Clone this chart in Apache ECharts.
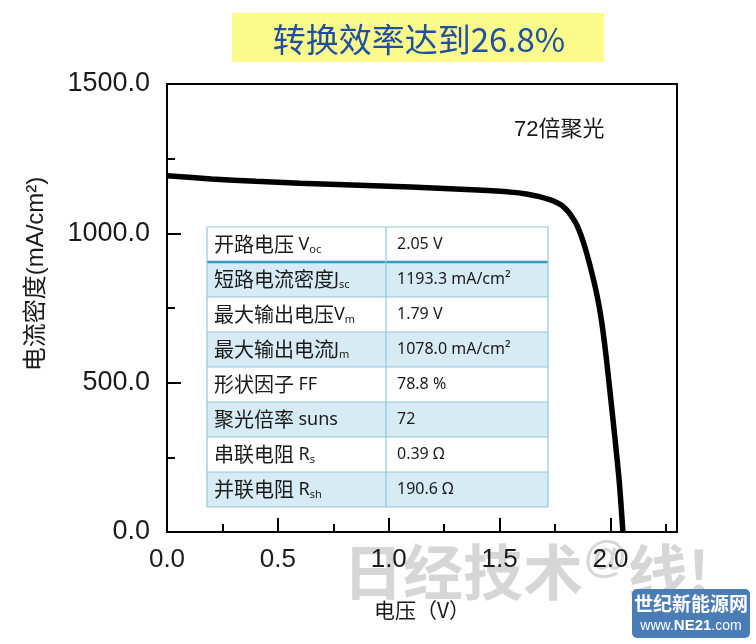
<!DOCTYPE html>
<html><head><meta charset="utf-8">
<script src="https://cdn.jsdelivr.net/npm/echarts@6/dist/echarts.min.js"></script>
<style>html,body{margin:0;padding:0;background:#fff}#c{width:756px;height:644px}</style>
</head><body><div id="c"></div>
<script>
// ---- data ----
const voltage = [0, 0.2, 0.4, 0.6, 0.8, 1.0, 1.2, 1.4, 1.55, 1.62, 1.68, 1.72, 1.75, 1.78, 1.80, 1.82, 1.85, 1.88, 1.91, 1.94, 1.96, 1.98, 2.0, 2.02, 2.04, 2.056];
const current = [1193, 1182, 1174, 1168, 1163, 1158, 1152, 1145, 1138, 1132, 1123, 1114, 1106, 1094, 1080, 1062, 1025, 965, 885, 790, 705, 590, 455, 315, 165, 0];
const yTickLabels = ['0.0', '500.0', '1000.0', '1500.0'];
const xTickLabels = ['0.0', '0.5', '1.0', '1.5', '2.0'];
const titleText = '转换效率达到26.8%';
const noteText = '72倍聚光';
const xName = '电压（V）';
const yName = '电流密度(mA/cm²)';
const tableNames = ['开路电压 ', '短路电流密度', '最大输出电压', '最大输出电流', '形状因子 ', '聚光倍率 ', '串联电阻 ', '并联电阻 '];
const tableSymbols = ['V', 'J', 'V', 'J', 'FF', 'suns', 'R', 'R'];
const tableSubs = ['oc', 'sc', 'm', 'm', '', '', 's', 'sh'];
const tableValues = ['2.05 V', '1193.3 mA/cm²', '1.79 V', '1078.0 mA/cm²', '78.8 %', '72', '0.39 Ω', '190.6 Ω'];

// ---- chart ----
const chart = echarts.init(document.getElementById('c'));
const latin = '"Liberation Sans", Arial, "Noto Sans CJK SC", sans-serif';
const cjk = '"Noto Sans CJK SC", sans-serif';

const graphics = [];
// watermark
graphics.push({
  type: 'text', z: -10, silent: true,
  style: {
    x: 343, y: 570, text: '{b|日经技术}{s|@}{b|线!}',
    textVerticalAlign: 'middle', verticalAlign: 'middle',
    rich: {
      b: {fontSize: 60, fontFamily: cjk, fontWeight: 'bold', fill: '#d6d6d6', color: '#d6d6d6', lineHeight: 64, verticalAlign: 'bottom'},
      s: {fontSize: 44, fontFamily: latin, fill: '#d6d6d6', color: '#d6d6d6', lineHeight: 64, verticalAlign: 'top'}
    }
  }
});
// title box
graphics.push({type: 'rect', shape: {x: 232, y: 13, width: 372, height: 49}, style: {fill: '#fbfb8c'}});
graphics.push({type: 'text', style: {x: 419, y: 39, text: titleText, font: '33px ' + cjk, fill: '#1f4fa0',
  textAlign: 'center', align: 'center', textVerticalAlign: 'middle', verticalAlign: 'middle'}});
// note
graphics.push({type: 'text', style: {x: 514, y: 130, text: noteText, font: '22px ' + latin, fill: '#1a1a1a',
  textAlign: 'left', align: 'left', textVerticalAlign: 'middle', verticalAlign: 'middle'}});
// y axis name
graphics.push({type: 'text', x: 36, y: 274, rotation: Math.PI / 2, style: {x: 0, y: 0, text: yName, font: '24px ' + latin, fill: '#1a1a1a',
  textAlign: 'center', align: 'center', textVerticalAlign: 'middle', verticalAlign: 'middle'}});
// table
const T = {x: 207, y: 227, w: 341, rh: 35, split: 386};
tableNames.forEach((nm, i) => {
  const ry = T.y + i * T.rh;
  graphics.push({type: 'rect', shape: {x: T.x, y: ry, width: T.w, height: T.rh}, style: {fill: i % 2 ? '#d6ebf4' : '#ffffff'}});
  const sub = tableSubs[i] ? '{s|' + tableSubs[i] + '}' : '';
  graphics.push({type: 'text', style: {
    x: T.x + 7, y: ry + T.rh / 2, text: '{c|' + nm + '}{l|' + tableSymbols[i] + '}' + sub,
    textVerticalAlign: 'middle', verticalAlign: 'middle',
    rich: {
      c: {fontSize: 20, fontFamily: cjk, fill: '#1a1a1a', color: '#1a1a1a', lineHeight: 22, verticalAlign: 'middle'},
      l: {fontSize: 18, fontFamily: '"Noto Sans", sans-serif', fill: '#1a1a1a', color: '#1a1a1a', lineHeight: 22, verticalAlign: 'middle'},
      s: {fontSize: 11, fontFamily: '"Noto Sans", sans-serif', fill: '#1a1a1a', color: '#1a1a1a', lineHeight: 22, verticalAlign: 'bottom'}
    }
  }});
  graphics.push({type: 'text', style: {x: T.split + 11, y: ry + T.rh / 2, text: tableValues[i],
    font: '16px "Noto Sans", sans-serif', fill: '#1a1a1a', textVerticalAlign: 'middle', verticalAlign: 'middle'}});
});
for (let i = 0; i <= tableNames.length; i++) {
  const yy = T.y + i * T.rh;
  const strong = i === 1;
  graphics.push({type: 'line', shape: {x1: T.x, y1: yy, x2: T.x + T.w, y2: yy},
    style: {stroke: strong ? '#3a98c5' : '#8fc8dd', lineWidth: strong ? 2.5 : 1.2}});
}
[T.x, T.split, T.x + T.w].forEach(xx => {
  graphics.push({type: 'line', shape: {x1: xx, y1: T.y, x2: xx, y2: T.y + T.rh * tableNames.length},
    style: {stroke: '#8fc8dd', lineWidth: 1.2}});
});
// logo
graphics.push({type: 'rect', shape: {x: 632, y: 589, width: 118, height: 49, r: 5}, style: {fill: '#4a7db5'}});
graphics.push({type: 'text', style: {x: 691, y: 604, text: '世纪新能源网', font: 'bold 19px ' + cjk, fill: '#ffffff',
  textAlign: 'center', align: 'center', textVerticalAlign: 'middle', verticalAlign: 'middle'}});
graphics.push({type: 'text', style: {x: 691, y: 626, text: '{a|www.}{b|NE21}{a|.com}',
  textAlign: 'center', align: 'center', textVerticalAlign: 'middle', verticalAlign: 'middle',
  rich: {
    a: {fontSize: 14, fontFamily: latin, fill: '#ffffff', color: '#ffffff'},
    b: {fontSize: 15, fontFamily: latin, fontWeight: 'bold', fill: '#ffffff', color: '#ffffff'}
  }}});

const fmtX = v => { const i = [0, 0.5, 1, 1.5, 2].findIndex(t => Math.abs(t - v) < 1e-6); return i >= 0 ? xTickLabels[i] : ''; };
const fmtY = v => { const i = [0, 500, 1000, 1500].findIndex(t => Math.abs(t - v) < 1e-6); return i >= 0 ? yTickLabels[i] : ''; };

chart.setOption({
  animation: false,
  backgroundColor: '#ffffff',
  grid: {left: 167, right: 79, top: 84, bottom: 112, show: true, borderColor: '#000', borderWidth: 2, backgroundColor: 'transparent'},
  xAxis: [{
    type: 'value', min: 0, max: 2.3, interval: 0.5,
    axisLine: {show: true, onZero: false, lineStyle: {color: '#000', width: 2}},
    axisTick: {show: true, inside: true, length: 14, lineStyle: {color: '#000', width: 2}},
    axisLabel: {formatter: fmtX, showMaxLabel: false, margin: 15, fontSize: 26, fontFamily: latin, color: '#1a1a1a'},
    splitLine: {show: false},
    name: xName, nameLocation: 'middle', nameGap: 68,
    nameTextStyle: {fontSize: 21, fontFamily: cjk, color: '#1a1a1a'}
  }, {
    type: 'value', min: 0, max: 2.3, interval: 0.25, position: 'bottom', gridIndex: 0,
    axisLine: {show: false}, axisLabel: {show: false}, splitLine: {show: false},
    axisTick: {show: true, inside: true, length: 8, lineStyle: {color: '#000', width: 2}}
  }],
  yAxis: {
    type: 'value', min: 0, max: 1500, interval: 500,
    axisLine: {show: true, lineStyle: {color: '#000', width: 2}},
    axisTick: {show: true, inside: true, length: 14, lineStyle: {color: '#000', width: 2}},
    minorTick: {show: true, splitNumber: 2, length: 8, lineStyle: {color: '#000', width: 2}},
    axisLabel: {formatter: fmtY, margin: 17, fontSize: 27, fontFamily: latin, color: '#1a1a1a'},
    splitLine: {show: false}, minorSplitLine: {show: false}
  },
  series: [{
    type: 'line', xAxisIndex: 0, showSymbol: false, symbol: 'none', smooth: 0.3,
    lineStyle: {color: '#000', width: 5.5},
    data: voltage.map((v, i) => [v, current[i]]),
    z: 5
  }],
  graphic: {elements: graphics}
});
</script></body></html>
